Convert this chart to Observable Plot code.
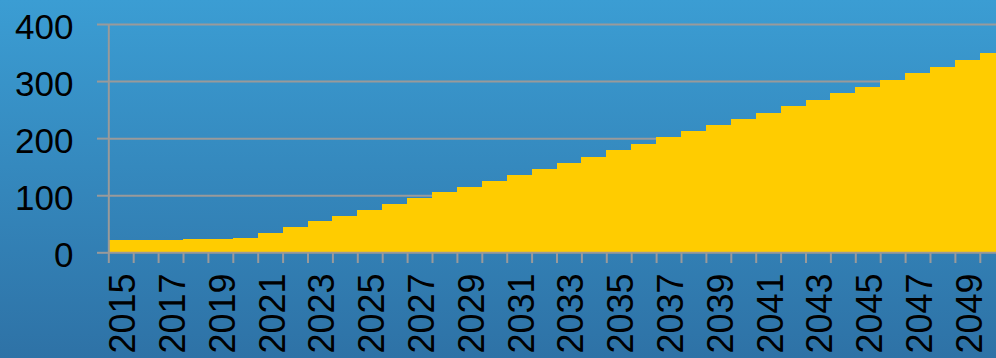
<!DOCTYPE html>
<html>
<head>
<meta charset="utf-8">
<script src="https://cdn.jsdelivr.net/npm/d3@7"></script>
<script src="https://cdn.jsdelivr.net/npm/@observablehq/plot@0.6"></script>
<style>
  html, body { margin: 0; padding: 0; overflow: hidden; width: 996px; height: 358px; }
  body { background: linear-gradient(to bottom, #3b9dd3, #2e72a6); }
  #chart svg { display: block; background: transparent !important; overflow: hidden !important; }
</style>
</head>
<body>
<div id="chart"></div>
<script>
const years = [2015, 2016, 2017, 2018, 2019, 2020, 2021, 2022, 2023, 2024, 2025, 2026,
  2027, 2028, 2029, 2030, 2031, 2032, 2033, 2034, 2035, 2036, 2037, 2038,
  2039, 2040, 2041, 2042, 2043, 2044, 2045, 2046, 2047, 2048, 2049, 2050];
const values = [21.5, 21.5, 21.5, 23.3, 23.3, 25, 33.3, 44.3, 55.4, 64.1, 74.7, 84,
  94.5, 105, 114.4, 124.9, 135.4, 145.9, 157, 167.5, 178.7, 189.7, 202, 212.5,
  223, 233.5, 244, 256.3, 267.4, 279.6, 290.1, 302.4, 313.6, 325.2, 336.4, 348.6];
const yTicks = [0, 100, 200, 300, 400];
const labelYears = [2015, 2017, 2019, 2021, 2023, 2025, 2027, 2029, 2031, 2033,
  2035, 2037, 2039, 2041, 2043, 2045, 2047, 2049];

const data = years.map((year, i) => ({year, value: values[i]}));
const grey = "#9a9a9a";

const chart = Plot.plot({
  width: 996,
  height: 358,
  marginLeft: 108,
  marginRight: 0,
  marginTop: 24,
  marginBottom: 106,
  style: {fontFamily: "'Liberation Sans', Arial, sans-serif", background: "transparent", overflow: "hidden"},
  x: {type: "linear", domain: [2015, 2051], range: [108.3, 1004.7]},
  y: {domain: [0, 400], range: [252.3, 24]},
  marks: [
    Plot.ruleY(yTicks.slice(1), {stroke: grey, strokeWidth: 2}),
    Plot.rectY(data, {x1: "year", x2: d => d.year + 1, y: "value", fill: "#ffcc00", inset: 0, shapeRendering: "crispEdges"}),
    Plot.ruleX([2015], {y1: 0, y2: 400, stroke: grey, strokeWidth: 2}),
    Plot.ruleY([0], {stroke: grey, strokeWidth: 2}),
    Plot.axisY({ticks: yTicks, tickSize: 11, stroke: grey, strokeWidth: 2, label: null, tickFormat: () => ""}),
    Plot.axisY({ticks: yTicks, tickSize: 0, tickPadding: 35, fontSize: 35, fill: "black", label: null, dy: 3, tickFormat: d => String(d)}),
    Plot.axisX({ticks: years, tickSize: 11, stroke: grey, strokeWidth: 2, tickFormat: () => "", label: null}),
    Plot.axisX({ticks: labelYears.map(y => y + 0.5), tickSize: 0, tickPadding: 21, tickRotate: -90, fontSize: 36, fill: "black", label: null, dx: 2.5, tickFormat: d => String(Math.floor(d))})
  ]
});
document.getElementById("chart").appendChild(chart);
</script>
</body>
</html>
